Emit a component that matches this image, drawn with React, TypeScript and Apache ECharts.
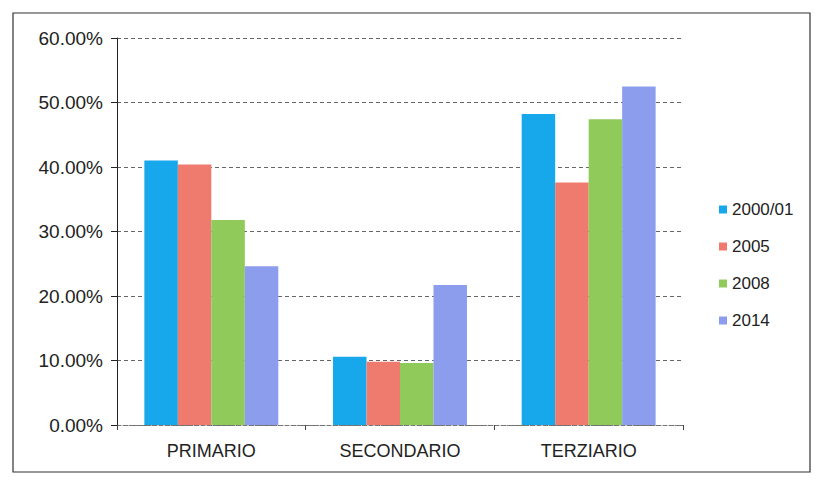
import React, { useEffect, useRef } from "react";
import * as echarts from "echarts";

const categories = ["PRIMARIO", "SECONDARIO", "TERZIARIO"];
const seriesNames = ["2000/01", "2005", "2008", "2014"];
const s2000 = [0.41, 0.106, 0.482];
const s2005 = [0.404, 0.098, 0.376];
const s2008 = [0.318, 0.096, 0.474];
const s2014 = [0.246, 0.217, 0.525];
const colors = ["#16a8ea", "#ef7b6e", "#8fca5a", "#8c9ded"];

export default function App() {
  const ref = useRef<HTMLDivElement>(null);
  useEffect(() => {
    if (!ref.current) return;
    const chart = echarts.init(ref.current, undefined, { renderer: "svg" });
    const data = [s2000, s2005, s2008, s2014];
    chart.setOption({
      animation: false,
      backgroundColor: "#ffffff",
      textStyle: { fontFamily: "Liberation Sans, Arial, sans-serif" },
      graphic: [
        {
          type: "rect",
          shape: { x: 13, y: 13, width: 797, height: 459 },
          style: { fill: "none", stroke: "#333", lineWidth: 1.2 },
          silent: true,
        },
      ],
      grid: { left: 117, right: 132, top: 38, bottom: 61 },
      legend: {
        orient: "vertical",
        left: 714,
        top: 196,
        itemWidth: 8,
        itemHeight: 8,
        itemGap: 20,
        icon: "rect",
        textStyle: { fontSize: 17, color: "#222", fontFamily: "Liberation Sans, Arial, sans-serif" },
        data: seriesNames,
      },
      xAxis: {
        type: "category",
        data: categories,
        axisLine: { show: true, lineStyle: { color: "#777", type: "dashed", width: 1 } },
        axisTick: { show: true, length: 5, lineStyle: { color: "#444" } },
        axisLabel: { fontSize: 18, color: "#222", margin: 17 },
      },
      yAxis: {
        type: "value",
        min: 0,
        max: 0.6,
        interval: 0.1,
        axisLine: { show: true, lineStyle: { color: "#222", width: 1 } },
        axisTick: { show: true, length: 6, lineStyle: { color: "#222" } },
        axisLabel: {
          fontSize: 19,
          color: "#222",
          margin: 14,
          formatter: (v: number) => (v * 100).toFixed(2) + "%",
        },
        splitLine: { show: true, lineStyle: { color: "#666", type: [4, 3], width: 1 } },
      },
      series: seriesNames.map((name, i) => ({
        name,
        type: "bar",
        data: data[i],
        itemStyle: { color: colors[i] },
        barGap: "0%",
        barCategoryGap: "29%",
      })),
    });
    return () => chart.dispose();
  }, []);
  return <div ref={ref} style={{ width: 815, height: 486, position: "absolute", left: 0, top: 0 }} />;
}
